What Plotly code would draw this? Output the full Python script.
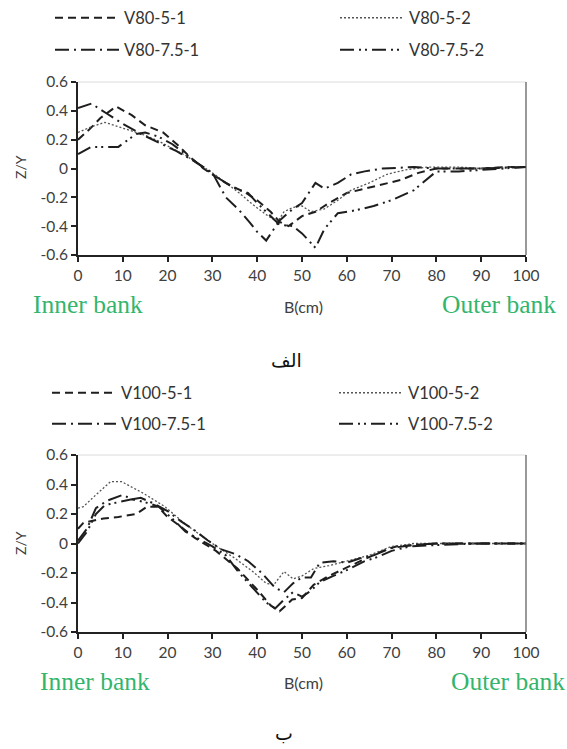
import plotly.graph_objects as go

# ---- Panel (a): V80 runs ----
x_v80_5_1 = [0, 2.5, 5, 8.5, 12, 15, 19, 22, 25, 28, 31, 34, 37, 40, 43, 45, 47, 50, 53, 56, 60, 64, 68, 72, 76, 80, 85, 90, 95, 100]
y_v80_5_1 = [0.20, 0.27, 0.35, 0.43, 0.37, 0.30, 0.25, 0.17, 0.08, 0.00, -0.06, -0.12, -0.16, -0.22, -0.30, -0.37, -0.40, -0.33, -0.30, -0.24, -0.17, -0.14, -0.11, -0.08, -0.03, 0.00, 0.00, 0.00, 0.01, 0.01]

x_v80_5_2 = [0, 3, 6, 9, 12, 15, 18, 21, 24, 27, 30, 33, 36, 39, 42, 44.5, 46, 48, 50, 52, 55, 58, 61, 65, 69, 73, 78, 85, 90, 95, 100]
y_v80_5_2 = [0.25, 0.29, 0.32, 0.29, 0.26, 0.23, 0.19, 0.14, 0.09, 0.03, -0.03, -0.10, -0.17, -0.25, -0.32, -0.37, -0.30, -0.27, -0.26, -0.30, -0.28, -0.22, -0.15, -0.10, -0.04, -0.01, 0.01, 0.01, 0.00, 0.01, 0.01]

x_v80_75_1 = [0, 3, 6.5, 10, 14, 18, 22, 26, 30, 33, 36, 38.5, 40, 42, 45, 48, 50, 53, 55, 58, 61, 64, 68, 75, 80, 90, 100]
y_v80_75_1 = [0.42, 0.45, 0.38, 0.31, 0.24, 0.18, 0.12, 0.05, -0.03, -0.20, -0.29, -0.38, -0.44, -0.50, -0.36, -0.28, -0.24, -0.10, -0.14, -0.10, -0.04, -0.02, 0.00, 0.01, 0.00, 0.00, 0.01]

x_v80_75_2 = [0, 3, 6, 9, 13, 15, 18, 21, 24, 27, 30, 33, 36, 38, 40, 42, 45, 48, 50, 53, 55, 58, 62, 66, 70, 75, 78, 80, 85, 90, 95, 100]
y_v80_75_2 = [0.10, 0.15, 0.15, 0.15, 0.24, 0.25, 0.22, 0.17, 0.10, 0.03, -0.04, -0.10, -0.15, -0.17, -0.24, -0.30, -0.39, -0.40, -0.45, -0.55, -0.42, -0.31, -0.29, -0.26, -0.22, -0.15, -0.07, -0.02, -0.02, -0.01, 0.00, 0.01]

# ---- Panel (b): V100 runs ----
x_v100_5_1 = [0, 1.2, 5.7, 9, 13, 15.4, 17.8, 20, 22.7, 26, 30.8, 35.6, 40.5, 43, 45, 47.8, 50, 52.6, 56, 60, 63, 68, 71, 75, 80, 90, 100]
y_v100_5_1 = [0.10, 0.14, 0.17, 0.18, 0.20, 0.25, 0.25, 0.18, 0.12, 0.04, -0.05, -0.17, -0.33, -0.42, -0.46, -0.38, -0.37, -0.28, -0.22, -0.16, -0.12, -0.05, -0.02, -0.01, 0.00, 0.00, 0.00]

x_v100_5_2 = [0, 1.2, 4, 7.3, 9.7, 14.6, 19.4, 24, 30, 35, 39, 42, 43.7, 46, 48, 50, 52.6, 56, 60, 65, 70, 75, 80, 90, 100]
y_v100_5_2 = [0.24, 0.25, 0.33, 0.42, 0.42, 0.34, 0.25, 0.13, 0.00, -0.10, -0.19, -0.27, -0.28, -0.19, -0.24, -0.22, -0.17, -0.15, -0.12, -0.08, -0.02, 0.00, 0.00, 0.00, 0.00]

x_v100_75_1 = [0, 2, 4, 6.5, 10, 12, 14, 17, 20, 23, 26, 29, 32, 35, 38, 41, 44, 46, 48, 50, 52, 54, 57, 60, 63, 66, 70, 75, 80, 90, 100]
y_v100_75_1 = [0.02, 0.10, 0.24, 0.29, 0.33, 0.30, 0.31, 0.27, 0.22, 0.15, 0.09, 0.02, -0.04, -0.07, -0.12, -0.20, -0.30, -0.33, -0.27, -0.23, -0.23, -0.13, -0.12, -0.13, -0.10, -0.08, -0.03, -0.01, 0.00, 0.00, 0.00]

x_v100_75_2 = [0, 2, 4, 6, 9, 12, 15, 18, 21, 24, 27, 30, 33, 36, 39, 42, 44, 46, 48, 50, 52, 54, 57, 60, 64, 67, 70, 74, 80, 90, 100]
y_v100_75_2 = [0.00, 0.08, 0.20, 0.26, 0.28, 0.30, 0.28, 0.25, 0.17, 0.08, 0.03, -0.02, -0.08, -0.20, -0.30, -0.40, -0.44, -0.38, -0.33, -0.36, -0.32, -0.26, -0.22, -0.18, -0.12, -0.09, -0.05, -0.02, -0.01, 0.00, 0.00]

x_ticks = list(range(0, 101, 10))
y_ticks = [-0.6, -0.4, -0.2, 0, 0.2, 0.4, 0.6]
y_ticktext = ["-0.6", "-0.4", "-0.2", "0", "0.2", "0.4", "0.6"]

W, H = 567, 749
def px_x(p):
    return p / W
def px_y(p):
    return 1 - p / H

INK = "#1e1e1e"
DASH_51 = "8px,5px"
DASH_52 = "2px,2px"
DASH_751 = "14px,5px,2px,5px"
DASH_752 = "14px,5px,2px,4px,2px,5px"
FONT = "Lato, 'Open Sans', sans-serif"
SERIF = "'Liberation Serif', 'DejaVu Serif', serif"
GREEN = "#33b56c"
LABEL = "#404040"

fig = go.Figure()

# one legend box per entry so the two-column key sits where it should
series = [
    ("V80-5-1", x_v80_5_1, y_v80_5_1, DASH_51, 2.0, INK, "x", "y", (50, 18)),
    ("V80-5-2", x_v80_5_2, y_v80_5_2, DASH_52, 1.3, "#555555", "x", "y", (335, 18)),
    ("V80-7.5-1", x_v80_75_1, y_v80_75_1, DASH_751, 2.0, INK, "x", "y", (50, 50)),
    ("V80-7.5-2", x_v80_75_2, y_v80_75_2, DASH_752, 2.0, INK, "x", "y", (335, 50)),
    ("V100-5-1", x_v100_5_1, y_v100_5_1, DASH_51, 2.0, INK, "x2", "y2", (47, 393)),
    ("V100-5-2", x_v100_5_2, y_v100_5_2, DASH_52, 1.3, "#555555", "x2", "y2", (334, 393)),
    ("V100-7.5-1", x_v100_75_1, y_v100_75_1, DASH_751, 2.0, INK, "x2", "y2", (47, 424)),
    ("V100-7.5-2", x_v100_75_2, y_v100_75_2, DASH_752, 2.0, INK, "x2", "y2", (334, 424)),
]

legend_style = dict(
    orientation="h", xanchor="left", yanchor="middle",
    bgcolor="rgba(0,0,0,0)", borderwidth=0,
    font=dict(family=FONT, size=16.5, color="#333333"),
    itemwidth=64, itemclick=False, itemdoubleclick=False,
)

legend_layout = {}
for i, (name, xs, ys, dash, w, col, xa, ya, (lx, ly)) in enumerate(series):
    key = "legend" if i == 0 else f"legend{i + 1}"
    fig.add_trace(go.Scatter(
        x=xs, y=ys, name=name, mode="lines",
        line=dict(color=col, width=w, dash=dash),
        xaxis=xa, yaxis=ya, legend=key,
    ))
    legend_layout[key] = dict(x=px_x(lx), y=px_y(ly), **legend_style)

x_dom = [px_x(78), px_x(526)]
top_dom = [px_y(255), px_y(82)]
bot_dom = [px_y(632), px_y(455)]

axis_common_x = dict(
    range=[0, 100], tickvals=x_ticks, showgrid=False, zeroline=False,
    showline=True, linecolor="#222222", linewidth=2, automargin=False,
    ticks="outside", ticklen=5, tickwidth=1.5, tickcolor="#222222",
    tickfont=dict(family=FONT, size=15.5, color=LABEL),
)
axis_common_y = dict(
    range=[-0.6, 0.6], tickvals=y_ticks, ticktext=y_ticktext,
    showgrid=False, zeroline=False, automargin=False,
    showline=True, linecolor="#222222", linewidth=2,
    ticks="outside", ticklen=5, tickwidth=1.5, tickcolor="#222222",
    tickfont=dict(family=FONT, size=15.5, color=LABEL),
)

fig.update_layout(
    width=W, height=H,
    margin=dict(l=0, r=0, t=0, b=0),
    paper_bgcolor="white", plot_bgcolor="white",
    showlegend=True,
    xaxis=dict(domain=x_dom, anchor="y", **axis_common_x),
    yaxis=dict(domain=top_dom, anchor="x", **axis_common_y),
    xaxis2=dict(domain=x_dom, anchor="y2", **axis_common_x),
    yaxis2=dict(domain=bot_dom, anchor="x2", **axis_common_y),
    **legend_layout,
)

# frame: faint top edge and thin right edge on both panels
for xa, ya in (("x", "y"), ("x2", "y2")):
    fig.add_shape(type="line", xref=f"{xa} domain", yref=f"{ya} domain",
                  x0=0, x1=1, y0=1, y1=1, line=dict(color="#dcdcdc", width=1))
    fig.add_shape(type="line", xref=f"{xa} domain", yref=f"{ya} domain",
                  x0=1, x1=1, y0=0, y1=1, line=dict(color="#555555", width=1.2))

def text(xp, yp, s, size, color, family, angle=0):
    fig.add_annotation(x=px_x(xp), y=px_y(yp), xref="paper", yref="paper",
                       text=s, showarrow=False, xanchor="center", yanchor="middle",
                       textangle=angle, font=dict(family=family, size=size, color=color))

# axis titles and bank labels
text(20, 167, "Z/Y", 14, LABEL, FONT, angle=-90)
text(88, 304, "Inner bank", 25.5, GREEN, SERIF)
text(499, 304, "Outer bank", 25.5, GREEN, SERIF)
text(303, 306, "B(cm)", 16, LABEL, FONT)
text(286, 360, "الف", 19, "#111111", "'DejaVu Sans', 'Noto Sans', serif")

text(20, 543, "Z/Y", 14, LABEL, FONT, angle=-90)
text(95, 681, "Inner bank", 25.5, GREEN, SERIF)
text(508, 681, "Outer bank", 25.5, GREEN, SERIF)
text(303, 682, "B(cm)", 16, LABEL, FONT)
text(284, 733, "ب", 19, "#111111", "'DejaVu Sans', 'Noto Sans', serif")

fig.write_html("out.html")
